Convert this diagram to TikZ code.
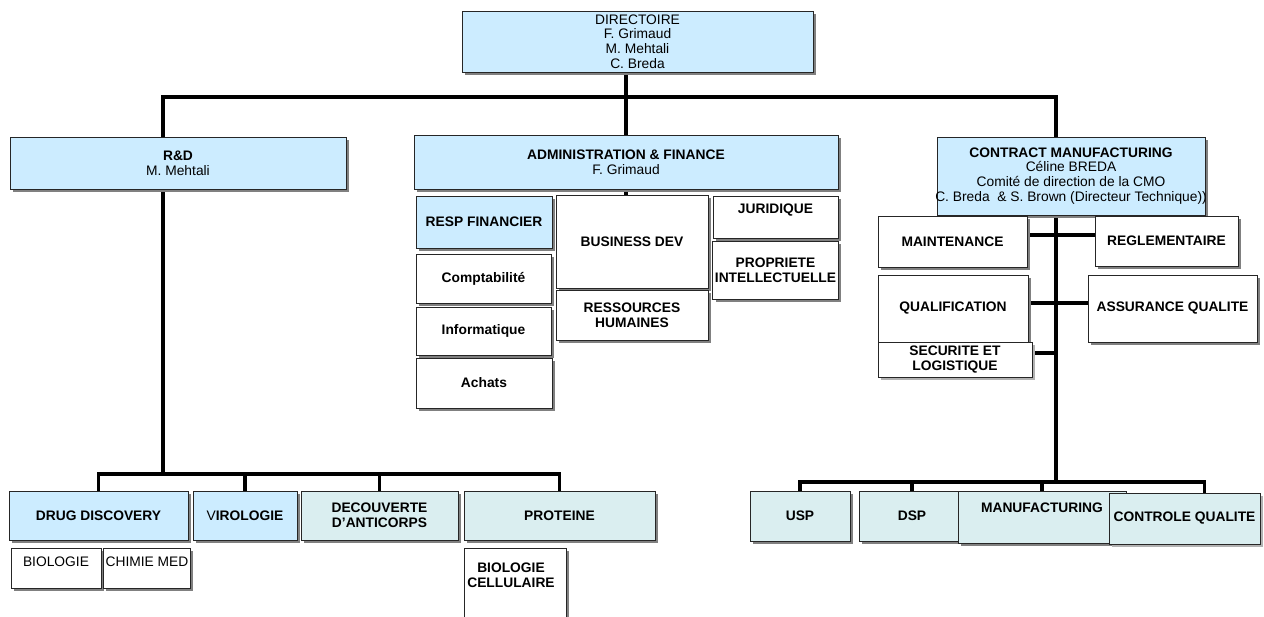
\documentclass[tikz,border=0pt]{standalone}
\usepackage{fontspec}
\setmainfont{Liberation Sans}
\usetikzlibrary{shadows,backgrounds}
\definecolor{boxblue}{RGB}{204,236,255}
\definecolor{boxteal}{RGB}{218,238,240}
\newcommand{\orgfont}{\fontsize{6.9}{7.4}\selectfont}
\begin{document}
\begin{tikzpicture}[x=0.5pt,y=-0.5pt,
  boxbase/.style={draw=black!85,line width=0.5pt,fill=white,align=center,inner sep=1pt,font=\orgfont},
  bx/.style={boxbase,drop shadow={shadow xshift=1.5pt,shadow yshift=-1.5pt,fill=black!50,opacity=1}},
  dotbx/.style={boxbase,drop shadow={shadow xshift=1.5pt,shadow yshift=-1.5pt,fill=black!30,opacity=1}},
  bbx/.style={bx,font=\orgfont\bfseries},
  sz/.style 2 args={minimum width=#1*0.5pt,minimum height=#2*0.5pt},
  lbl/.style={inner sep=0pt,align=center,font=\orgfont},
  link/.style={line width=1.6pt,line cap=rect}]
\useasboundingbox (0,0) rectangle (1264,616);
\node[bx,fill=boxblue,sz={351}{61}] (dir) at (637.5,41.5) {DIRECTOIRE\\F. Grimaud\\M. Mehtali\\C. Breda};
\node[bx,fill=boxblue,sz={336}{52}] (rd) at (178,163) {\textbf{R\&D}\\M. Mehtali};
\node[bx,fill=boxblue,sz={424}{54}] (adm) at (626,162) {\textbf{ADMINISTRATION \& FINANCE}\\F. Grimaud};
\node[bx,fill=boxblue,sz={268}{78}] (cm) at (1071,176) {\textbf{CONTRACT MANUFACTURING}\\C\'eline BREDA\\Comit\'e de direction de la CMO\\\makebox[0pt]{C. Breda \ \& S. Brown (Directeur Technique))}};
% administration
\node[bbx,fill=boxblue,sz={136}{52}] (rf) at (484,222) {RESP FINANCIER};
\node[bbx,sz={135}{49}] (compta) at (483.5,278.5) {Comptabilit\'e};
\node[bbx,sz={135}{48}] (info) at (483.5,331) {Informatique};
\node[bbx,sz={136}{50}] (achats) at (484,383) {Achats};
\node[bbx,sz={152}{93}] (bizdev) at (632,241.5) {BUSINESS DEV};
\node[bbx,sz={152}{50}] (rh) at (632,315) {RESSOURCES\\HUMAINES};
\node[bbx,sz={125}{42}] (jur) at (775.5,217) {};
\node[lbl,font=\orgfont\bfseries] (jur-t) at (775.5,210) {JURIDIQUE};
\node[bbx,sz={125}{58}] (pi) at (775.5,270) {PROPRIETE\\INTELLECTUELLE};
% contract manufacturing
\node[bbx,sz={149}{51}] (maint) at (952.5,241.5) {MAINTENANCE};
\node[bbx,sz={143}{50}] (regl) at (1166.5,241) {REGLEMENTAIRE};
\node[bbx,sz={150}{67}] (qualif) at (953,308.5) {QUALIFICATION};
\node[bbx,sz={169}{67}] (aq) at (1172.5,308.5) {ASSURANCE QUALITE};
\node[dotbx,font=\orgfont\bfseries,sz={154}{35}] (secu) at (955,359.5) {SECURITE ET\\LOGISTIQUE};
\node[bbx,fill=boxteal,sz={100}{50}] (usp) at (800,516) {USP};
\node[bbx,fill=boxteal,sz={106}{50}] (dsp) at (912,516) {DSP};
\node[bbx,fill=boxteal,sz={168}{52}] (manuf) at (1042,517) {};
\node[lbl,font=\orgfont\bfseries] (manuf-t) at (1042,508) {MANUFACTURING};
\node[dotbx,fill=boxteal,font=\orgfont\bfseries,sz={151}{51}] (cq) at (1184.5,518.5) {CONTROLE QUALITE};
% R&D
\node[bbx,fill=boxblue,sz={179}{49}] (dd) at (98.5,515.5) {DRUG DISCOVERY};
\node[bbx,fill=boxblue,sz={104}{49}] (viro) at (245,515.5) {\mdseries V\bfseries IROLOGIE};
\node[bbx,fill=boxteal,sz={157}{49}] (decou) at (379.5,515.5) {DECOUVERTE\\D’ANTICORPS};
\node[bbx,fill=boxteal,sz={191}{49}] (prot) at (559.5,515.5) {PROTEINE};
\node[bx,sz={90}{40}] (bio) at (56,568) {};
\node[lbl] (bio-t) at (56,562) {BIOLOGIE};
\node[bx,sz={87}{40}] (chim) at (146.5,568) {};
\node[lbl] (chim-t) at (147,562) {CHIMIE MED};
\node[bx,sz={102}{92}] (biocell) at (515,594) {};
\node[lbl,font=\orgfont\bfseries] (biocell-t) at (511,575) {BIOLOGIE\\CELLULAIRE};
\coordinate (rdtop) at (163,97);
\coordinate (cmtop) at (1056,97);
\coordinate (rdbus) at (163,474);
\coordinate (cmbus) at (1056,482);
\coordinate (cmA) at (1056,235);
\coordinate (cmB) at (1056,303);
\coordinate (cmC) at (1056,353);
\coordinate (cqtop) at ([xshift=10pt]cq.north);
\begin{scope}[on background layer]
\draw[link] (adm.north |- dir.south) -- (adm.north);
\draw[link] (rdtop) -- (cmtop);
\draw[link] (rdtop) -- (rdbus);
\draw[link] (cmtop) -- (cmbus);
\draw[link] (dd.north |- rdbus) -- (prot.north |- rdbus);
\foreach \n in {dd,viro,decou,prot}
  \draw[link] (\n.north |- rdbus) -- (\n.north);
\draw[link] (usp.north |- cmbus) -- (cqtop |- cmbus);
\foreach \n in {usp.north,dsp.north,manuf.north,cqtop}
  \draw[link] (\n |- cmbus) -- (\n);
\draw[link] (maint.east |- cmA) -- (regl.west |- cmA);
\draw[link] (qualif.east |- cmB) -- (aq.west |- cmB);
\draw[link] (secu.east |- cmC) -- (cmC);
\draw[link] (adm.south) -- (adm.south |- bizdev.north);
\end{scope}
\end{tikzpicture}
\end{document}
